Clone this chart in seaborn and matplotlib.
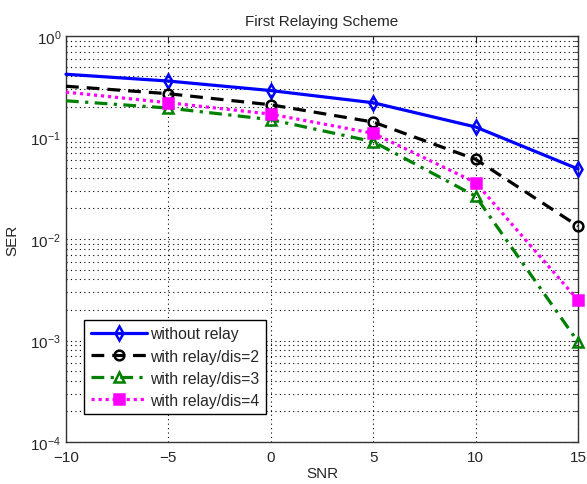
import numpy as np
import pandas as pd
import matplotlib
matplotlib.use("Agg")
import matplotlib.pyplot as plt
import seaborn as sns

snr = [-10, -5, 0, 5, 10, 15]
ser_no_relay = [0.42, 0.36, 0.29, 0.22, 0.127, 0.049]
ser_dis2 = [0.32, 0.27, 0.21, 0.142, 0.061, 0.0134]
ser_dis3 = [0.23, 0.195, 0.15, 0.091, 0.0264, 0.00097]
ser_dis4 = [0.28, 0.22, 0.17, 0.11, 0.036, 0.0025]
names = ["without relay", "with relay/dis=2", "with relay/dis=3", "with relay/dis=4"]

sns.set_style("white")
plt.rcParams["font.family"] = ["Liberation Sans", "DejaVu Sans"]
plt.rcParams["mathtext.fontset"] = "custom"
plt.rcParams["mathtext.rm"] = "Liberation Sans"

fig = plt.figure(figsize=(5.87, 4.85), dpi=100)
ax = fig.add_axes([0.1124, 0.0866, 0.8723, 0.8371])

styles = [
    dict(color="#0000ff", marker="d", mfc="none", ms=7.5, dashes=None),
    dict(color="black", marker="o", mfc="none", ms=7, dashes=(4, 2.5)),
    dict(color="#008000", marker="^", mfc="none", ms=7.5, dashes=(4, 2, 1, 2)),
    dict(color="#ff00ff", marker="s", mfc="#ff00ff", ms=6.5, dashes=(1, 1.2)),
]
series = [ser_no_relay, ser_dis2, ser_dis3, ser_dis4]

for vals, name, st in zip(series, names, styles):
    df = pd.DataFrame({"SNR": snr, "SER": vals})
    sns.lineplot(data=df, x="SNR", y="SER", ax=ax, color=st["color"], lw=2.3,
                 marker=st["marker"], markersize=st["ms"], markerfacecolor=st["mfc"],
                 markeredgecolor=st["color"], markeredgewidth=1.8,
                 markevery=[1, 2, 3, 4, 5],
                 label=name, clip_on=False, zorder=3)
    line = ax.lines[-1]
    if st["dashes"] is not None:
        line.set_dashes(st["dashes"])

ax.set_yscale("log")
ax.set_xlim(-10, 15)
ax.set_ylim(1e-4, 1e0)
ax.set_xticks([-10, -5, 0, 5, 10, 15])
ax.set_xticklabels(["\u221210", "\u22125", "0", "5", "10", "15"])
ax.grid(True, which="major", color="black", linestyle=(0, (1, 3)), lw=0.8)
ax.grid(True, which="minor", axis="y", color="black", linestyle=(0, (1, 3)), lw=0.8)
ax.tick_params(which="both", direction="in", top=True, right=True, labelsize=11)
ax.tick_params(which="major", length=5)
ax.tick_params(which="minor", length=3)
ax.tick_params(axis="x", pad=6)
for sp in ax.spines.values():
    sp.set_color("#333333")
    sp.set_linewidth(1)

ax.set_xlabel("SNR", fontsize=11, labelpad=1)
ax.set_ylabel("SER", fontsize=11, labelpad=8)
ax.set_title("First Relaying Scheme", fontsize=11, pad=8)

leg = ax.legend(loc="upper left", bbox_to_anchor=(0.036, 0.30), fontsize=11.3,
                frameon=True, fancybox=False, edgecolor="black", borderpad=0.4,
                labelspacing=0.45, handlelength=3.6, handletextpad=0.2,
                borderaxespad=0)
leg.get_frame().set_linewidth(1)
leg.get_frame().set_alpha(1)

fig.savefig("out.png", dpi=100)
